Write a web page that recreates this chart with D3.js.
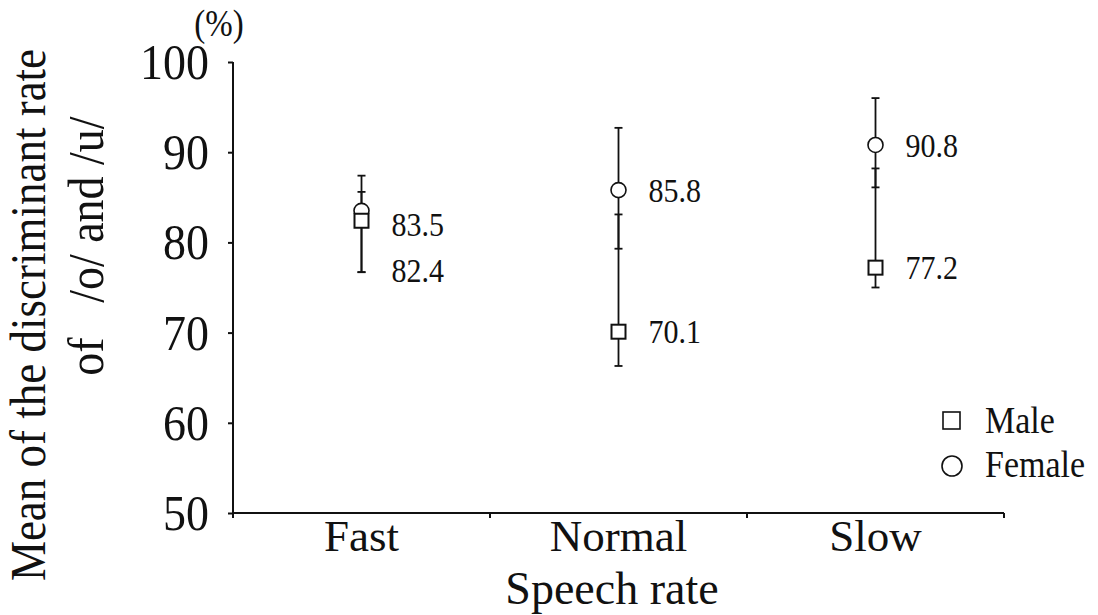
<!DOCTYPE html>
<html>
<head>
<meta charset="utf-8">
<script src="https://cdn.jsdelivr.net/npm/d3@7/dist/d3.min.js"></script>
<style>
  html, body { margin: 0; padding: 0; background: #fff; }
  svg { display: block; }
  text { font-family: "Liberation Serif", "Times New Roman", serif; fill: #111; }
</style>
</head>
<body>
<svg id="chart" width="1098" height="615"></svg>
<script>
// Speech-rate categories and group means (%)
const categories = ["Fast", "Normal", "Slow"];
const femaleMean = [83.5, 85.8, 90.8];
const maleMean   = [82.4, 70.1, 77.2];

// Error-bar extents (%)
const femaleLow  = [76.7, 79.3, 86.1];
const femaleHigh = [87.4, 92.7, 96.0];
const maleLow    = [76.7, 66.3, 75.0];
const maleHigh   = [85.6, 83.1, 88.2];

const yTicks = [50, 60, 70, 80, 90, 100];

const svg = d3.select("#chart");
const TALL = 1.12; // slightly tall lettering

// Place a text at (px, py), optionally stretched vertically and rotated
function label(parent, px, py, str, size, opts = {}) {
  const rot = opts.rotate ? ` rotate(${opts.rotate})` : "";
  const k = opts.tall === false ? 1 : TALL;
  return parent.append("text")
    .attr("transform", `translate(${px},${py})${rot} scale(1,${k})`)
    .attr("text-anchor", opts.anchor || "start")
    .attr("dy", opts.dy || null)
    .style("font-size", size + "px")
    .style("white-space", "pre")
    .text(str);
}

const x = d3.scaleBand().domain(categories).range([233, 1004]).padding(0);
const y = d3.scaleLinear().domain([50, 100]).range([513, 62]);

// Y axis
const yAxis = d3.axisLeft(y).tickValues(yTicks).tickSize(5).tickPadding(19).tickFormat(d3.format("d"));
const gy = svg.append("g").attr("transform", "translate(233,0)").call(yAxis);
gy.select(".domain").attr("d", `M0,${y(100)}V${y(50)}`).attr("stroke", "#111").attr("stroke-width", 2);
gy.selectAll(".tick line").attr("stroke", "#111").attr("stroke-width", 2);
gy.selectAll(".tick text")
  .style("font-family", "'Liberation Serif', serif").style("font-size", "46px")
  .attr("fill", "#111").attr("transform", `scale(1,${TALL})`);

// X axis with ticks at the category boundaries
const gx = svg.append("g").attr("transform", `translate(0,${y(50)})`);
gx.append("line").attr("x1", x.range()[0]).attr("x2", x.range()[1]).attr("stroke", "#111").attr("stroke-width", 2);
const bounds = categories.map(c => x(c)).concat([x.range()[1]]);
gx.selectAll("line.bound").data(bounds).join("line").attr("class", "bound")
  .attr("x1", d => d).attr("x2", d => d).attr("y1", 0).attr("y2", 5)
  .attr("stroke", "#111").attr("stroke-width", 2);
categories.forEach(c => label(gx, x(c) + x.bandwidth() / 2, 38, c, 45, { anchor: "middle", tall: false }));

// Axis titles
label(svg, 612, 604, "Speech rate", 46, { anchor: "middle", tall: false });
label(svg, 45, 315, "Mean of the discriminant rate", 45, { anchor: "middle", rotate: -90 });
label(svg, 103, 246, "of   /o/ and /u/", 46, { anchor: "middle", rotate: -90 });
label(svg, 219, 36, "(%)", 33, { anchor: "middle" });

// Series
const series = [
  { name: "Female", mean: femaleMean, low: femaleLow, high: femaleHigh },
  { name: "Male",   mean: maleMean,   low: maleLow,   high: maleHigh }
];

const cx = c => x(c) + x.bandwidth() / 2;
const capW = 8;

// Error bars
series.forEach(s => {
  const g = svg.append("g").attr("stroke", "#111").attr("stroke-width", 1.8);
  categories.forEach((c, i) => {
    g.append("line").attr("x1", cx(c)).attr("x2", cx(c)).attr("y1", y(s.low[i])).attr("y2", y(s.high[i]));
    [s.low[i], s.high[i]].forEach(v => {
      g.append("line").attr("x1", cx(c) - capW / 2).attr("x2", cx(c) + capW / 2).attr("y1", y(v)).attr("y2", y(v));
    });
  });
});

// Markers: circles for female, squares for male
const femaleS = series[0], maleS = series[1];
svg.append("g").selectAll("circle").data(categories).join("circle")
  .attr("cx", d => cx(d)).attr("cy", (d, i) => y(femaleS.mean[i])).attr("r", 7.5)
  .attr("fill", "#fff").attr("stroke", "#111").attr("stroke-width", 1.6);
const sq = 14;
svg.append("g").selectAll("rect").data(categories).join("rect")
  .attr("x", d => cx(d) - sq / 2).attr("y", (d, i) => y(maleS.mean[i]) - sq / 2)
  .attr("width", sq).attr("height", sq)
  .attr("fill", "#fff").attr("stroke", "#111").attr("stroke-width", 2);

// Value labels, spread apart when two labels of one category would collide
categories.forEach((c, i) => {
  const items = series.map(s => ({ v: s.mean[i], y: y(s.mean[i]) })).sort((a, b) => a.y - b.y);
  if (items[1].y - items[0].y < 40) {
    const mid = (items[0].y + items[1].y) / 2;
    items[0].y = mid + 8;
    items[1].y = mid + 54;
  }
  items.forEach(it => label(svg, cx(c) + 30, it.y, d3.format(".1f")(it.v), 30, { dy: "0.35em" }));
});

// Legend
const lg = svg.append("g");
lg.append("rect").attr("x", 943).attr("y", 412).attr("width", 17).attr("height", 17)
  .attr("fill", "#fff").attr("stroke", "#111").attr("stroke-width", 1.6);
label(lg, 985, 433, "Male", 34);
lg.append("circle").attr("cx", 952).attr("cy", 466).attr("r", 10)
  .attr("fill", "#fff").attr("stroke", "#111").attr("stroke-width", 1.6);
label(lg, 985, 477, "Female", 34);
</script>
</body>
</html>
